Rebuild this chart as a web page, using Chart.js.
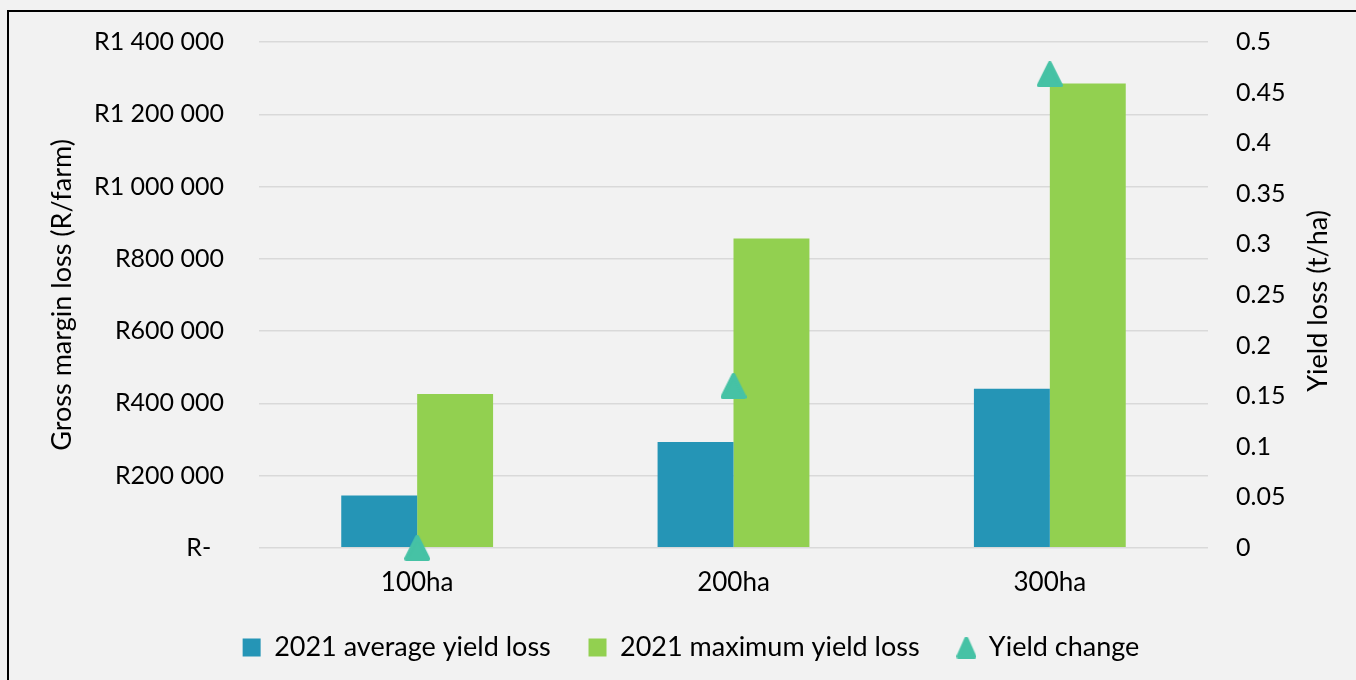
<!DOCTYPE html>
<html>
<head>
<meta charset="utf-8">
<script src="https://cdn.jsdelivr.net/npm/chart.js@4.4.1/dist/chart.umd.min.js"></script>
<style>
	html, body { margin: 0; padding: 0; background: #f2f2f2; overflow: hidden; }
	#frame { position: absolute; left: 7px; top: 10px; width: 1400px; height: 700px; border-left: 2px solid #000; border-top: 2px solid #000; }
	#wrap { position: absolute; left: 0; top: 0; width: 1356px; height: 680px; }
</style>
</head>
<body>
<div id="frame"></div>
<div id="wrap"><canvas id="grafico" width="1356" height="680"></canvas></div>
<script>
var categorias = ['100ha', '200ha', '300ha'];
var perdidaPromedio = [145000, 293000, 440000];
var perdidaMaxima = [426000, 856000, 1285000];
var cambioRendimiento = [0, 0.160, 0.468];
var ticksIzq = ['R-  ', 'R200 000', 'R400 000', 'R600 000', 'R800 000', 'R1 000 000', 'R1 200 000', 'R1 400 000'];
var ticksDer = ['0', '0.05', '0.1', '0.15', '0.2', '0.25', '0.3', '0.35', '0.4', '0.45', '0.5'];
var tituloDer = 'Yield loss (t/ha)';

// triangulo redondeado estilo Excel
function triangulo(w, h) {
	var c = document.createElement('canvas');
	c.width = w; c.height = h;
	var ctx = c.getContext('2d');
	ctx.fillStyle = '#46c2a5';
	ctx.strokeStyle = '#46c2a5';
	ctx.lineJoin = 'round';
	ctx.lineWidth = 4;
	ctx.beginPath();
	ctx.moveTo(w / 2, 2);
	ctx.lineTo(w - 2, h - 2);
	ctx.lineTo(2, h - 2);
	ctx.closePath();
	ctx.fill();
	ctx.stroke();
	return c;
}
var triGrande = triangulo(26, 26);

Chart.defaults.font.family = 'Lato';
Chart.defaults.color = '#000';

// titulo del eje derecho leido de abajo hacia arriba, como en Excel
var tituloDerecho = {
	id: 'tituloDerecho',
	afterDraw: function (chart) {
		var ctx = chart.ctx;
		var s = chart.scales.y1;
		var area = chart.chartArea;
		ctx.save();
		ctx.translate(s.right - 38, (area.top + area.bottom) / 2 + 6);
		ctx.rotate(-Math.PI / 2);
		ctx.font = '27px Lato';
		ctx.fillStyle = '#000';
		ctx.textAlign = 'center';
		ctx.textBaseline = 'middle';
		ctx.fillText(tituloDer, 0, 0);
		ctx.restore();
	}
};

function sinRelleno(s, ancho) {
	s.width = ancho;
	s.paddingTop = 0;
	s.paddingBottom = 0;
}

var contexto = document.getElementById('grafico').getContext('2d');
var grafico = new Chart(contexto, {
	type: 'bar',
	data: {
		labels: categorias,
		datasets: [{
			type: 'line',
			label: 'Yield change',
			data: cambioRendimiento,
			yAxisID: 'y1',
			showLine: false,
			clip: false,
			pointStyle: triGrande,
			backgroundColor: '#46c2a5',
			borderColor: '#46c2a5',
			order: 0
		}, {
			label: '2021 average yield loss   ',
			data: perdidaPromedio,
			backgroundColor: '#2595b6',
			yAxisID: 'y',
			order: 1
		}, {
			label: '2021 maximum yield loss   ',
			data: perdidaMaxima,
			backgroundColor: '#92d050',
			yAxisID: 'y',
			order: 1
		}]
	},
	plugins: [tituloDerecho],
	options: {
		responsive: false,
		animation: false,
		layout: { padding: { top: 42, left: 26, right: 0, bottom: 9 } },
		datasets: { bar: { barPercentage: 1, categoryPercentage: 0.48 } },
		plugins: {
			tooltip: { enabled: false },
			legend: {
				position: 'bottom',
				labels: {
					font: { size: 27 },
					boxWidth: 18,
					boxHeight: 18,
					padding: 17,
					generateLabels: function (chart) {
						var items = Chart.defaults.plugins.legend.labels.generateLabels(chart);
						items.forEach(function (it) {
							it.lineWidth = 0;
							if (it.datasetIndex === 0) {
								it.pointStyle = triangulo(20, 22);
							} else {
								it.pointStyle = 'rect';
							}
						});
						return [items[1], items[2], items[0]];
					},
					usePointStyle: true,
					pointStyleWidth: 18
				}
			}
		},
		scales: {
			x: {
				grid: { display: false, drawTicks: false },
				border: { display: false },
				ticks: { font: { size: 26 }, padding: 19 }
			},
			y: {
				position: 'left',
				min: 0,
				max: 1400000,
				ticks: {
					stepSize: 200000,
					font: { size: 25 },
					padding: 35,
					callback: function (v, i) { return ticksIzq[i]; }
				},
				grid: { color: '#d9d9d9', lineWidth: 1.5, drawTicks: false },
				border: { display: false },
				title: { display: true, text: 'Gross margin loss (R/farm)', font: { size: 27 }, padding: { top: 20, bottom: 0 } },
				afterFit: function (s) { sinRelleno(s, 233); }
			},
			y1: {
				position: 'right',
				min: 0,
				max: 0.5,
				ticks: {
					stepSize: 0.05,
					font: { size: 25 },
					padding: 28,
					callback: function (v, i) { return ticksDer[i]; }
				},
				grid: { display: false, drawTicks: false },
				border: { display: false },
				afterFit: function (s) { sinRelleno(s, 148); }
			}
		}
	}
});
</script>
</body>
</html>
